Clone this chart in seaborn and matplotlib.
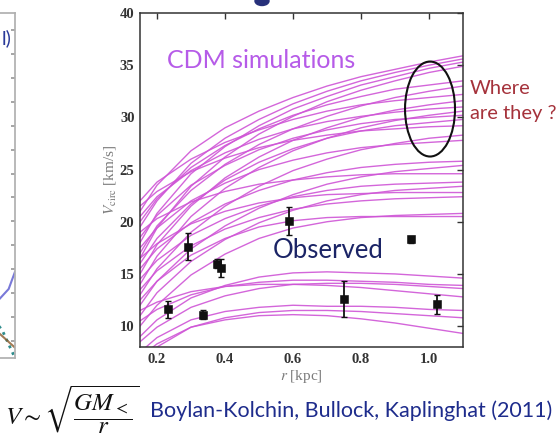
import numpy as np
import pandas as pd
import matplotlib
matplotlib.use("Agg")
import matplotlib.pyplot as plt
from matplotlib.patches import Ellipse
import seaborn as sns

# Radii at which each simulated rotation curve is sampled (kpc)
radius = [0.15, 0.2, 0.3, 0.4, 0.5, 0.6, 0.7, 0.8, 0.9, 1.0, 1.1]

# Circular velocity of each CDM subhalo at those radii (km/s)
halo_01 = [21.0, 23.5, 26.8, 29.0, 30.6, 31.9, 33.0, 33.9, 34.6, 35.3, 35.9]
halo_02 = [19.5, 22.0, 25.6, 28.0, 29.8, 31.3, 32.5, 33.5, 34.3, 35.0, 35.6]
halo_03 = [18.0, 20.8, 24.6, 27.2, 29.2, 30.8, 32.0, 33.1, 33.9, 34.7, 35.3]
halo_04 = [16.5, 19.4, 23.4, 26.2, 28.4, 30.1, 31.5, 32.6, 33.5, 34.3, 34.9]
halo_05 = [20.0, 22.2, 25.2, 27.3, 28.9, 30.2, 31.2, 32.0, 32.7, 33.1, 33.5]
halo_06 = [17.0, 19.6, 23.0, 25.5, 27.4, 28.9, 30.1, 31.1, 31.9, 32.5, 33.0]
halo_07 = [22.0, 23.8, 26.0, 27.6, 28.8, 29.8, 30.6, 31.2, 31.6, 31.9, 32.2]
halo_08 = [15.0, 17.8, 21.5, 24.2, 26.2, 27.8, 29.0, 30.0, 30.7, 31.2, 31.6]
halo_09 = [20.5, 22.4, 24.9, 26.6, 27.9, 28.9, 29.6, 30.1, 30.5, 30.8, 31.0]
halo_10 = [14.0, 16.7, 20.5, 23.2, 25.2, 26.8, 28.0, 29.0, 29.7, 30.2, 30.6]
halo_11 = [18.5, 20.6, 23.5, 25.4, 26.9, 28.0, 28.8, 29.4, 29.8, 30.0, 30.2]
halo_12 = [16.0, 18.4, 21.7, 24.0, 25.7, 27.0, 28.0, 28.7, 29.2, 29.5, 29.8]
halo_13 = [21.5, 22.9, 24.8, 26.1, 27.1, 27.8, 28.3, 28.7, 28.9, 29.1, 29.2]
halo_14 = [13.0, 15.5, 19.0, 21.5, 23.4, 24.9, 26.0, 26.9, 27.5, 28.0, 28.3]
halo_15 = [17.5, 19.4, 22.0, 23.7, 25.0, 25.9, 26.6, 27.1, 27.4, 27.6, 27.8]
halo_16 = [15.5, 17.4, 19.9, 21.7, 23.0, 24.0, 24.7, 25.2, 25.5, 25.7, 25.8]
halo_17 = [12.0, 14.3, 17.4, 19.6, 21.3, 22.6, 23.6, 24.3, 24.8, 25.1, 25.4]
halo_18 = [19.0, 20.3, 21.9, 22.9, 23.6, 24.0, 24.3, 24.5, 24.6, 24.6, 24.6]
halo_19 = [14.5, 16.3, 18.7, 20.3, 21.5, 22.4, 23.0, 23.4, 23.6, 23.7, 23.8]
halo_20 = [11.0, 13.2, 16.2, 18.3, 19.9, 21.1, 22.0, 22.6, 23.0, 23.2, 23.4]
halo_21 = [16.5, 17.9, 19.8, 21.0, 21.8, 22.3, 22.6, 22.7, 22.8, 22.8, 22.8]
halo_22 = [13.5, 15.3, 17.7, 19.3, 20.4, 21.2, 21.7, 22.0, 22.2, 22.3, 22.4]
halo_23 = [10.0, 12.0, 14.9, 16.9, 18.4, 19.4, 20.0, 20.4, 20.6, 20.7, 20.8]
halo_24 = [12.5, 14.3, 16.8, 18.4, 19.5, 20.1, 20.4, 20.5, 20.5, 20.5, 20.5]
halo_25 = [9.0, 10.6, 12.7, 13.9, 14.7, 15.1, 15.2, 15.1, 15.0, 14.8, 14.6]
halo_26 = [10.5, 11.6, 13.0, 13.8, 14.2, 14.4, 14.4, 14.3, 14.2, 14.0, 13.9]
halo_27 = [8.5, 9.9, 11.8, 12.9, 13.6, 14.0, 14.1, 14.1, 14.0, 13.8, 13.6]
halo_28 = [11.5, 12.3, 13.3, 13.8, 14.0, 14.0, 13.9, 13.7, 13.4, 13.1, 12.8]
halo_29 = [7.5, 8.9, 10.6, 11.4, 11.8, 12.0, 11.9, 11.9, 11.8, 11.6, 11.5]
halo_30 = [6.5, 8.0, 9.9, 10.8, 11.3, 11.5, 11.5, 11.4, 11.2, 11.0, 10.8]
halo_31 = [7.0, 8.3, 9.9, 10.6, 11.0, 11.1, 11.0, 10.7, 10.3, 9.8, 9.3]

halos = [halo_01, halo_02, halo_03, halo_04, halo_05, halo_06, halo_07, halo_08,
         halo_09, halo_10, halo_11, halo_12, halo_13, halo_14, halo_15, halo_16,
         halo_17, halo_18, halo_19, halo_20, halo_21, halo_22, halo_23, halo_24,
         halo_25, halo_26, halo_27, halo_28, halo_29, halo_30, halo_31]

# Observed dwarf spheroidals: half-light radius, circular velocity, error
obs_r = [0.233, 0.292, 0.336, 0.376, 0.387, 0.589, 0.751, 0.947, 1.023]
obs_v = [11.6, 17.6, 11.1, 16.0, 15.6, 20.1, 12.6, 18.3, 12.1]
obs_err = [0.85, 1.3, 0.45, 0.4, 0.85, 1.35, 1.7, 0.3, 0.9]

x_ticks = [0.2, 0.4, 0.6, 0.8, 1.0]
y_ticks = [10, 15, 20, 25, 30, 35, 40]

sns.set_theme(style="white")
plt.rcParams["font.family"] = ["DejaVu Sans"]
plt.rcParams["mathtext.fontset"] = "stix"

W, H = 559, 438
fig = plt.figure(figsize=(W / 100, H / 100), dpi=100)
fig.patch.set_facecolor("white")

ax = fig.add_axes([140 / W, 1 - 347 / H, (463 - 140) / W, (347 - 13) / H])

curves = pd.DataFrame(
    [(i, r, v) for i, h in enumerate(halos) for r, v in zip(radius, h)],
    columns=["halo", "r", "v"],
)
sns.lineplot(data=curves, x="r", y="v", units="halo", estimator=None,
             color="#CF55D6", linewidth=1.0, alpha=0.9, ax=ax, legend=False)

ax.errorbar(obs_r, obs_v, yerr=obs_err, fmt="none", ecolor="#111111",
            elinewidth=1.3, capsize=2.5, capthick=1.0, zorder=4)
obs = pd.DataFrame({"r": obs_r, "v": obs_v})
sns.scatterplot(data=obs, x="r", y="v", marker="s", s=28, color="#111111",
                edgecolor="#111111", ax=ax, zorder=5)

ax.add_patch(Ellipse((1.003, 30.8), 0.147, 9.1, fill=False,
                     edgecolor="#111111", linewidth=1.5, zorder=6))

ax.set_xlim(0.15, 1.1)
ax.set_ylim(8, 40)
ax.set_xticks(x_ticks)
ax.set_yticks(y_ticks)
ax.set_xticklabels([f"{t:.1f}" for t in x_ticks])
ax.set_yticklabels([str(t) for t in y_ticks])
ax.tick_params(direction="in", length=4, width=1, top=True, right=True,
               colors="#333333", pad=4)
for lab in ax.get_xticklabels() + ax.get_yticklabels():
    lab.set_fontfamily("Liberation Serif")
    lab.set_fontweight("bold")
    lab.set_fontsize(10.5)
    lab.set_color("#333333")
for sp in ax.spines.values():
    sp.set_color("#333333")
    sp.set_linewidth(1.1)

ax.set_xlabel(r"$r$ [kpc]", fontsize=11, color="#7a7a7a",
              fontfamily="Liberation Serif", labelpad=2)
ax.set_ylabel(r"$V_{\rm circ}$ [km/s]", fontsize=11, color="#7a7a7a",
              fontfamily="Liberation Serif", labelpad=1)

ax.text(0.084, 0.835, "CDM simulations", transform=ax.transAxes,
        fontsize=18, color="#B65BE8", fontfamily="Lato", va="baseline")
ax.text(0.41, 0.265, "Observed", transform=ax.transAxes,
        fontsize=18.5, color="#1B2466", fontfamily="Lato", va="baseline")

fig.text(470 / W, 1 - 89 / H, "Where", fontsize=14.5, color="#A5323B",
         fontfamily="Lato", va="center")
fig.text(470 / W, 1 - 114 / H, "are they ?", fontsize=14.5, color="#A5323B",
         fontfamily="Lato", va="center")

fig.text(5 / W, 1 - 410 / H, r"$V \sim \sqrt{\dfrac{GM_<}{r}}$", fontsize=18,
         color="#111111", va="center", math_fontfamily="stix")
fig.text(150 / W, 1 - 411 / H, "Boylan-Kolchin, Bullock, Kaplinghat (2011)",
         fontsize=15.5, color="#1E2C8C", fontfamily="Lato", va="center")

# Descender of the slide heading, cut by the top edge
fig.patches.append(Ellipse((262 / W, 1 - 1 / H), 14 / W, 9 / H,
                           transform=fig.transFigure, color="#27307A",
                           zorder=1))

# Edge of the neighbouring panel on the slide
side = fig.add_axes([-0.2, 1 - 358 / H, 0.2 + 15 / W, (358 - 13) / H])
side.set_xlim(0, 1)
side.set_ylim(0, 1)
side.plot([0.55, 0.75, 0.9, 1.0], [0.25, 0.15, 0.08, 0.0], color="#2E8C8C",
          linewidth=2, linestyle=":")
side.plot([0.7, 0.85, 0.95, 1.0], [0.12, 0.16, 0.2, 0.25], color="#4040C8",
          linewidth=1.5, alpha=0.7)
side.plot([0.7, 0.85, 1.0], [0.05, 0.08, 0.03], color="#8B5A2B",
          linewidth=1.5, alpha=0.8)
side.set_xticks([])
side.set_yticks(np.linspace(0.05, 0.95, 14))
side.tick_params(axis="y", direction="in", left=False, right=True, length=3,
                 labelleft=False, colors="#9a9a9a")
for sp in side.spines.values():
    sp.set_color("#b0b0b0")
fig.text(2 / W, 1 - 38 / H, "l)", fontsize=14, color="#2A3A9A",
         fontfamily="Lato", va="center")

fig.savefig("out.png", dpi=100, facecolor="white")
